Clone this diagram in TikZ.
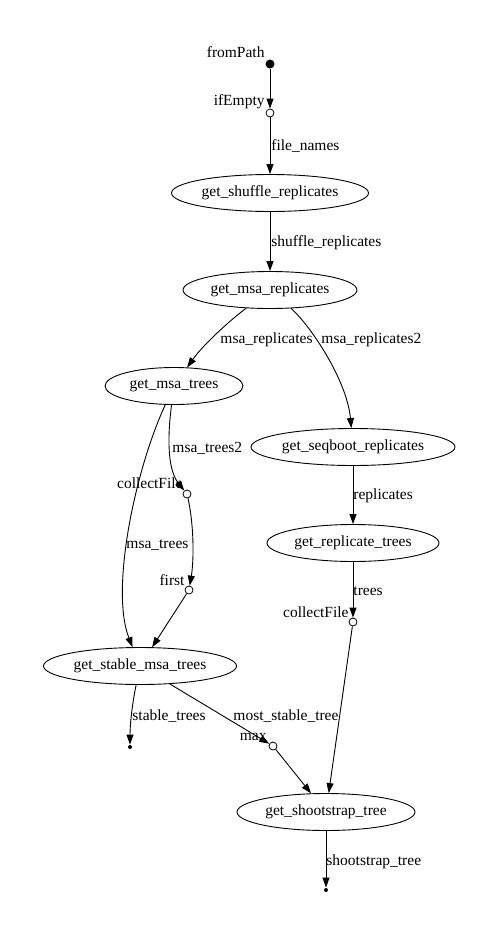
\documentclass[tikz,border=0pt]{standalone}
\usepackage{fontspec}
\setmainfont{Liberation Serif}
\usetikzlibrary{shapes.geometric, arrows.meta}

\begin{document}
\begin{tikzpicture}[x=1pt, y=-1pt, line width=0.9pt,
		proc/.style={ellipse, draw, inner sep=0pt, minimum height=37pt, font=\fontsize{15.5}{18}\selectfont},
		op/.style={circle, draw, fill=white, inner sep=0pt, minimum size=8pt, line width=0.8pt},
		src/.style={circle, fill, inner sep=0pt, minimum size=9pt},
		sink/.style={circle, fill, inner sep=0pt, minimum size=4pt},
		lbl/.style={inner sep=0pt, font=\fontsize{15.5}{18}\selectfont},
		flow/.style={-{Triangle[length=10pt, width=7pt]}}]
		\useasboundingbox (0,0) rectangle (500,937);
		\node[src] (fromPath) at (270,64) {};
		\node[op] (ifEmpty) at (270,113) {};
		\node[proc, minimum width=197pt] (shuffle) at (270,193) {get\_shuffle\_replicates};
		\node[proc, minimum width=174pt] (msaRep) at (270,290) {get\_msa\_replicates};
		\node[proc, minimum width=138pt] (msaTrees) at (174,386) {get\_msa\_trees};
		\node[proc, minimum width=204pt] (seqboot) at (353,447) {get\_seqboot\_replicates};
		\node[op] (collectA) at (187,494) {};
		\node[proc, minimum width=172pt] (repTrees) at (353,543) {get\_replicate\_trees};
		\node[op] (first) at (189,590) {};
		\node[op] (collectB) at (353,622) {};
		\node[proc, minimum width=193pt] (stable) at (140,666) {get\_stable\_msa\_trees};
		\node[op] (max) at (273,746) {};
		\node[sink] (endA) at (130,747) {};
		\node[proc, minimum width=178pt] (shoot) at (326,812) {get\_shootstrap\_tree};
		\node[sink] (endB) at (326,890) {};
		\node[lbl, anchor=base east] (lFromPath) at (265,57) {fromPath};
		\node[lbl, anchor=base east] (lIfEmpty) at (265,105) {ifEmpty};
		\node[lbl, anchor=base east] (lCollectA) at (183,488) {collectFile};
		\node[lbl, anchor=base east] (lFirst) at (185,585) {first};
		\node[lbl, anchor=base east] (lCollectB) at (349,617) {collectFile};
		\node[lbl, anchor=base east] (lMax) at (267,740) {max};
		\draw[flow] (fromPath) -- (ifEmpty);
		\draw[flow] (ifEmpty) -- (shuffle);
		\draw[flow] (shuffle) -- (msaRep);
		\draw[flow] (msaRep) .. controls (228,322) and (203,345) .. (msaTrees);
		\draw[flow] (msaRep) .. controls (310,325) and (347,380) .. (seqboot);
		\draw[flow] (msaTrees) .. controls (167,440) and (168,470) .. (collectA);
		\draw[flow] (msaTrees) .. controls (135,470) and (110,590) .. (stable);
		\draw[flow] (collectA) .. controls (194,525) and (194,560) .. (first);
		\draw[flow] (first) -- (stable);
		\draw[flow] (seqboot) -- (repTrees);
		\draw[flow] (repTrees) -- (collectB);
		\draw[flow] (collectB) -- (shoot);
		\draw[flow] (stable) .. controls (132,705) and (130,725) .. (endA);
		\draw[flow] (stable) -- (max);
		\draw[flow] (max) -- (shoot);
		\draw[flow] (shoot) -- (endB);
		\node[lbl, anchor=base west] (lFileNames) at (271,150) {file\_names};
		\node[lbl, anchor=base west] (lShuffle) at (271,246) {shuffle\_replicates};
		\node[lbl, anchor=base west] (lMsaRep) at (220,343) {msa\_replicates};
		\node[lbl, anchor=base west] (lMsaRepB) at (321,343) {msa\_replicates2};
		\node[lbl, anchor=base west] (lMsaTreesB) at (172,452) {msa\_trees2};
		\node[lbl, anchor=base west] (lMsaTrees) at (126,548) {msa\_trees};
		\node[lbl, anchor=base west] (lReplicates) at (353,499) {replicates};
		\node[lbl, anchor=base west] (lTrees) at (353,595) {trees};
		\node[lbl, anchor=base west] (lStableTrees) at (132,720) {stable\_trees};
		\node[lbl, anchor=base west] (lMostStable) at (233,720) {most\_stable\_tree};
		\node[lbl, anchor=base west] (lShoot) at (326,865) {shootstrap\_tree};
	\end{tikzpicture}
\end{document}
